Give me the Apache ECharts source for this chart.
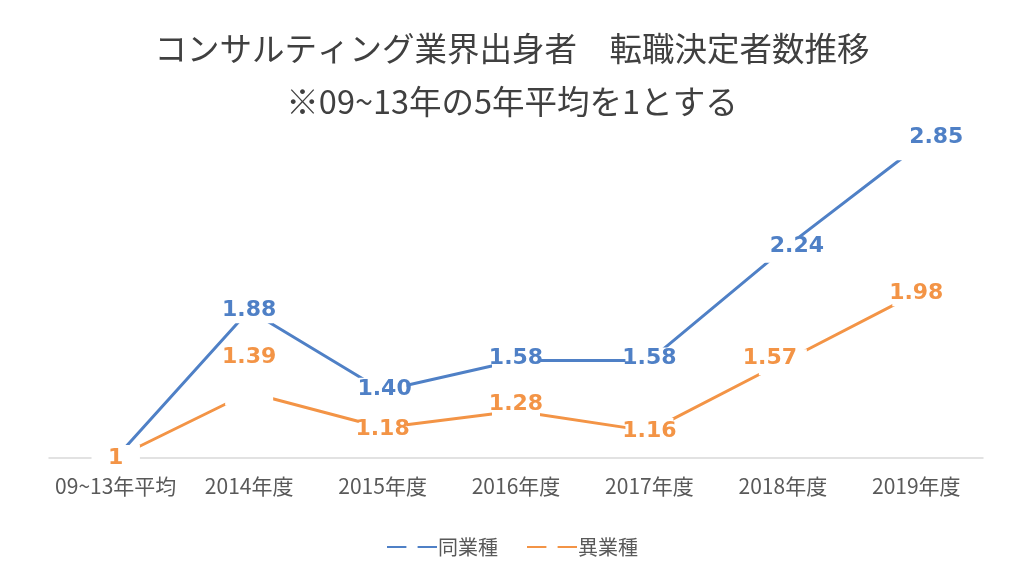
<!DOCTYPE html>
<html>
<head>
<meta charset="utf-8">
<script src="https://cdn.jsdelivr.net/npm/echarts@6/dist/echarts.min.js"></script>
<style>html,body{margin:0;padding:0;background:#fff}#c{width:1024px;height:576px}</style>
</head>
<body>
<div id="c"></div>
<script>
const categories = ['09~13年平均', '2014年度', '2015年度', '2016年度', '2017年度', '2018年度', '2019年度'];
const sameIndustry = [1, 1.88, 1.40, 1.58, 1.58, 2.24, 2.85];
const otherIndustry = [1, 1.39, 1.18, 1.28, 1.16, 1.57, 1.98];
const seriesNames = ['同業種', '異業種'];
const labelText = {
  same: ['1', '1.88', '1.40', '1.58', '1.58', '2.24', '2.85'],
  other: ['1', '1.39', '1.18', '1.28', '1.16', '1.57', '1.98']
};

const BLUE = '#4F80C6';
const ORANGE = '#F39446';
const sameOffsets = [[0,0],[0,0],[2,-2],[0,-2],[0,-2],[14,-3],[20,-10]];
const otherOffsets = [[0,0],[0,-35],[0,2],[0,-7],[0,0],[-13,-4],[0,0]];

function buildData(vals, texts, offsets, hideFirst) {
  return vals.map((v, i) => ({
    value: v,
    label: { show: !(hideFirst && i === 0), offset: offsets[i], formatter: texts[i] }
  }));
}

const chart = echarts.init(document.getElementById('c'), null, { renderer: 'canvas' });
const labelFont = { fontFamily: 'DejaVu Sans', fontWeight: 'bold', fontSize: 22 };
chart.setOption({
  backgroundColor: '#ffffff',
  animation: false,
  title: {
    text: 'コンサルティング業界出身者　転職決定者数推移\n※09~13年の5年平均を1とする',
    left: 'center',
    top: 17,
    textStyle: {
      fontFamily: 'Noto Sans CJK JP',
      fontWeight: 'normal',
      fontSize: 32.5,
      lineHeight: 53,
      color: '#404040'
    }
  },
  legend: {
    bottom: 14,
    left: 'center',
    itemWidth: 50,
    itemHeight: 14,
    itemGap: 28,
    data: seriesNames,
    textStyle: { fontFamily: 'Noto Sans CJK JP', fontSize: 20, color: '#595959', padding: [0,0,0,-4] }
  },
  grid: { left: 49, right: 41, top: 122, bottom: 118 },
  xAxis: {
    type: 'category',
    data: categories,
    boundaryGap: true,
    axisLine: { lineStyle: { color: '#D9D9D9', width: 1.5 } },
    axisTick: { show: false },
    axisLabel: { margin: 18, fontFamily: 'Noto Sans CJK JP', fontSize: 21, color: '#595959', interval: 0 }
  },
  yAxis: {
    type: 'value',
    min: 1,
    max: 3,
    show: false,
    splitLine: { show: false }
  },
  series: [
    {
      name: seriesNames[0],
      type: 'line',
      data: buildData(sameIndustry, labelText.same, sameOffsets, true),
      lineStyle: { color: BLUE, width: 3 },
      itemStyle: { color: '#ffffff', borderWidth: 0 },
      symbol: 'rect',
      symbolSize: [48, 26],
      label: Object.assign({ show: true, position: 'inside', color: BLUE }, labelFont),
      z: 3
    },
    {
      name: seriesNames[1],
      type: 'line',
      data: buildData(otherIndustry, labelText.other, otherOffsets, false),
      lineStyle: { color: ORANGE, width: 3 },
      itemStyle: { color: '#ffffff', borderWidth: 0 },
      symbol: 'rect',
      symbolSize: [48, 26],
      label: Object.assign({ show: true, position: 'inside', color: ORANGE }, labelFont),
      z: 3
    }
  ]
});
</script>
</body>
</html>
